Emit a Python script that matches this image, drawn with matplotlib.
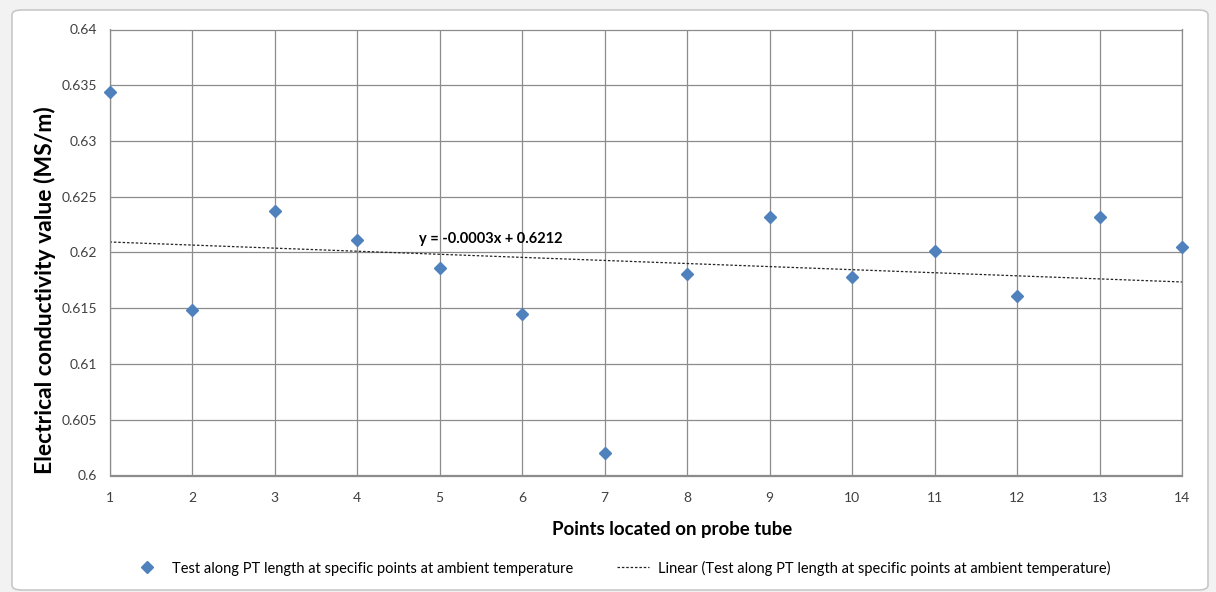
import numpy as np
import matplotlib.pyplot as plt
from matplotlib.patches import FancyBboxPatch
from matplotlib.lines import Line2D

points = [1, 2, 3, 4, 5, 6, 7, 8, 9, 10, 11, 12, 13, 14]
conductivity = [0.6344, 0.6148, 0.6237, 0.6211, 0.6186, 0.6145, 0.6020,
                0.6181, 0.6232, 0.6178, 0.6201, 0.6161, 0.6232, 0.6205]
y_ticks = [0.6, 0.605, 0.61, 0.615, 0.62, 0.625, 0.63, 0.635, 0.64]
series_name = "Test along PT length at specific points at ambient temperature"

plt.rcParams['font.family'] = ['Lato', 'DejaVu Sans']

fig = plt.figure(figsize=(12.16, 5.92), dpi=100)
fig.patch.set_facecolor('#f2f2f2')

# chart area with rounded border
frame = FancyBboxPatch((12 / 1216, 2 / 592), 1196 / 1216, 580 / 592,
                       boxstyle="round,pad=0,rounding_size=0.008",
                       transform=fig.transFigure, facecolor='white',
                       edgecolor='#c8c8c8', linewidth=1.2, zorder=-10)
fig.patches.append(frame)

ax = fig.add_axes([109.5 / 1216, 1 - 475.5 / 592, (1182 - 109.5) / 1216, 446 / 592])
ax.set_zorder(1)
ax.set_facecolor('white')

x = np.array(points, dtype=float)
y = np.array(conductivity)
slope, intercept = np.polyfit(x, y, 1)

ax.plot(x, y, linestyle='none', marker='D', markersize=6.5,
        color='#4f81bd', markeredgecolor='#4f81bd', zorder=3, clip_on=False)
ax.plot(x, slope * x + intercept, linestyle=(0, (2, 1.5)), color='#222222',
        linewidth=0.9, zorder=2)

ax.text(4.75, 0.6212, f"y = {slope:.4f}x + {intercept:.4f}", fontsize=10.5,
        fontweight='bold', ha='left', va='center', color='black')

ax.set_xlim(1, 14)
ax.set_ylim(0.6, 0.64)
ax.set_xticks(points)
ax.set_xticklabels([str(p) for p in points])
ax.set_yticks(y_ticks)
ax.set_yticklabels([f"{t:g}" for t in y_ticks])
ax.grid(True, color='#8c8c8c', linewidth=0.9)
ax.set_axisbelow(True)
for s in ax.spines.values():
    s.set_color('#8c8c8c')
    s.set_linewidth(0.9)
ax.tick_params(length=0, labelsize=10, colors='#404040', pad=9)
ax.tick_params(axis='x', pad=12)

ax.set_xlabel("Points located on probe tube", fontsize=13.4, fontweight='bold', va='center')
ax.xaxis.set_label_coords(0.5245, -0.122)
ax.set_ylabel("Electrical conductivity value (MS/m)", fontsize=16.5, fontweight='bold',
              va='center', ha='center')
ax.yaxis.set_label_coords(-0.060, 0.416)

handles = [
    Line2D([0], [0], linestyle='none', marker='D', markersize=6, color='#4f81bd'),
    Line2D([0], [0], linestyle=(0, (2, 1.5)), color='#222222', linewidth=0.9),
]
labels = [series_name, f"Linear ({series_name})"]
fig.legend(handles, labels, loc='center', bbox_to_anchor=(621 / 1216, 1 - 568 / 592),
           ncol=2, frameon=False, fontsize=10.5, handlelength=2.2,
           columnspacing=3.0, handletextpad=0.6)

fig.savefig('out.png', dpi=100, facecolor=fig.get_facecolor())
